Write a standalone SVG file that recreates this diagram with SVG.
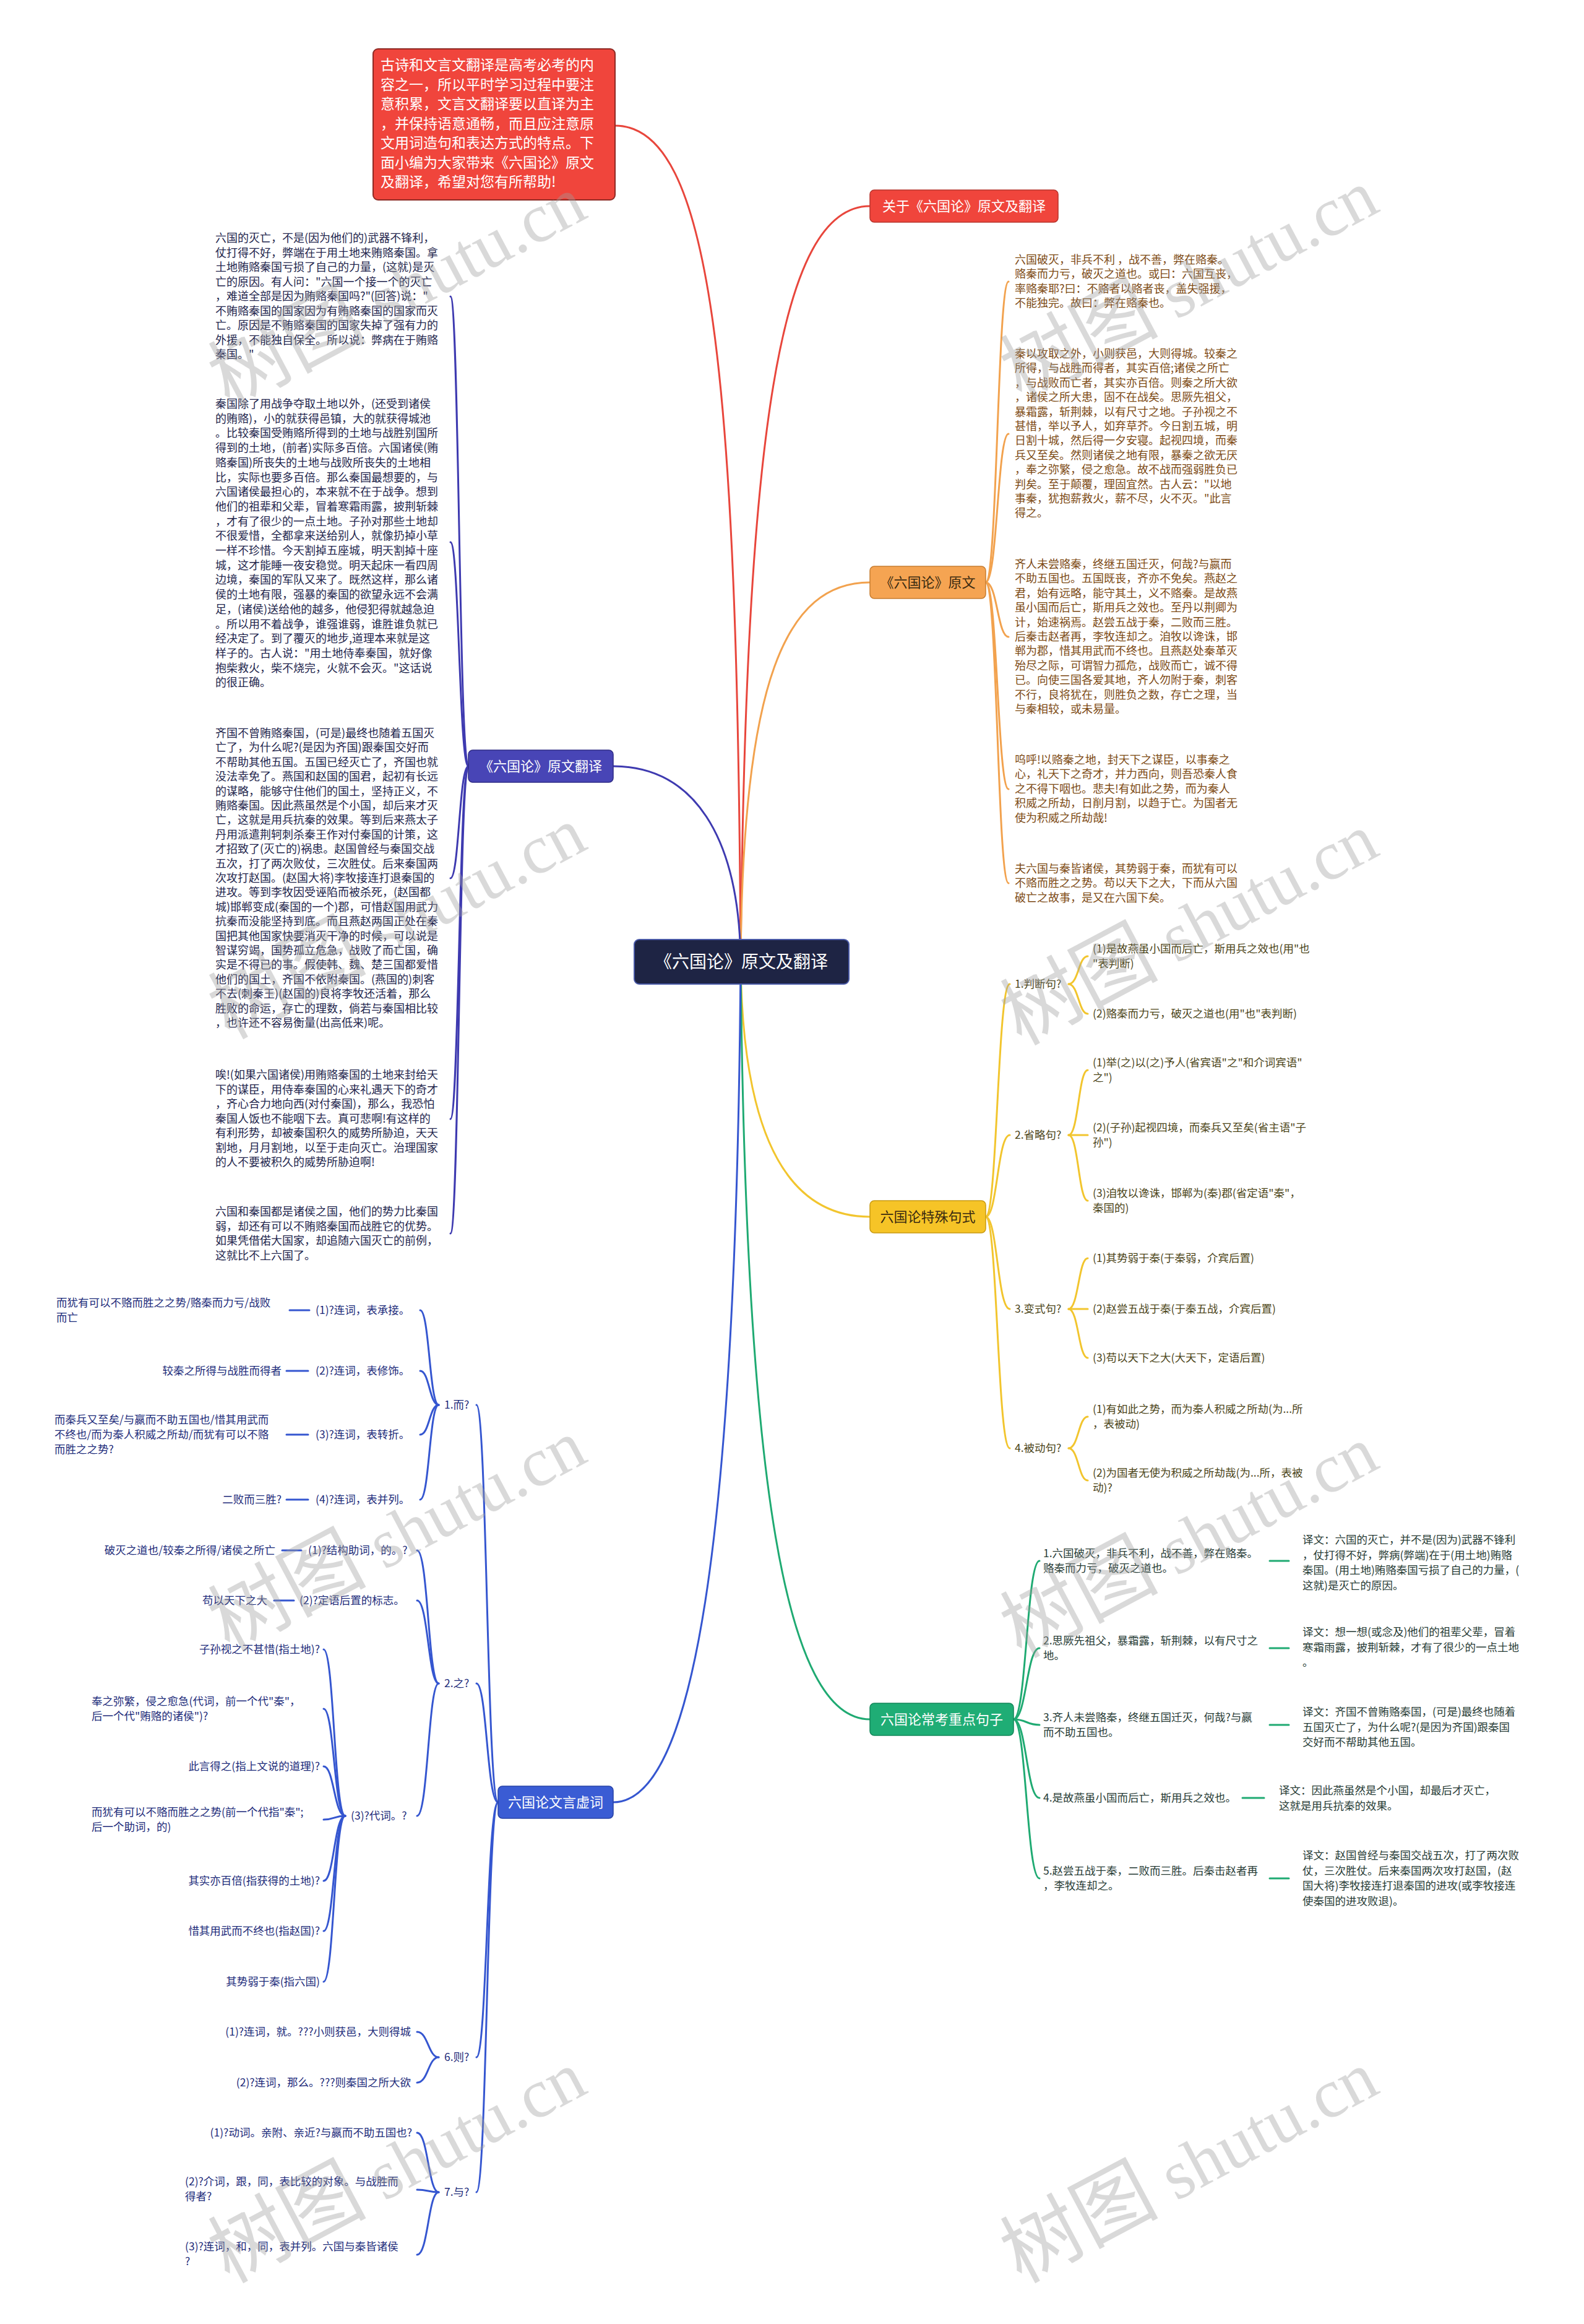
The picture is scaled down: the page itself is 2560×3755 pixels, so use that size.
<svg xmlns="http://www.w3.org/2000/svg" width="2560" height="3755" viewBox="0 0 2560 3755">
<style>
.cj{font-family:"Noto Sans CJK SC","Noto Sans",sans-serif}
.lt{font-size:18px;fill:#23264d}
.ot{font-size:18px;fill:#7d4a14}
.yt{font-size:17.5px;fill:#4b4418}
.gt{font-size:17.5px;fill:#283c36}
.bt{font-size:17.5px;fill:#1d2b7a}
.end{text-anchor:end}
.mid{text-anchor:middle}
.l1{font-size:22px}
.wh{fill:#ffffff}
.dk{fill:#3a2a10}
.c{fill:none;stroke-linecap:round}
.cr{stroke:#e8463c;stroke-width:3}
.co{stroke:#f2a24e;stroke-width:3}
.cy{stroke:#f2c52e;stroke-width:3}
.cg{stroke:#1faa72;stroke-width:3}
.ci{stroke:#3e3ab0;stroke-width:3}
.cb{stroke:#3556d0;stroke-width:3}
.wm{font-size:112px;fill:#9e9e9e;opacity:0.38}
.wmc{font-family:"Noto Sans CJK SC",sans-serif;font-size:128px}
.wms{font-family:"Liberation Serif",serif}
</style>
<rect width="2560" height="3755" fill="#ffffff"/>

<g id="connectors">
<path class="c cr" d="M1197,1554 C1192,600 1150,203 994,203"/>
<path class="c cr" d="M1197,1554 C1205,700 1260,333 1406,333"/>
<path class="c co" d="M1197,1554 C1200,1100 1270,941 1406,941"/>
<path class="c ci" d="M1197,1554 C1195,1350 1120,1238 991,1238"/>
<path class="c cy" d="M1197,1554 C1200,1850 1280,1966 1406,1966"/>
<path class="c cg" d="M1197,1554 C1205,2400 1270,2778 1406,2778"/>
<path class="c cb" d="M1197,1554 C1190,2500 1120,2912 991,2912"/>
<path class="c co" d="M1593,941 C1612,941 1612,455 1630,455"/>
<path class="c co" d="M1593,941 C1612,941 1612,701 1630,701"/>
<path class="c co" d="M1593,941 C1612,941 1612,1029 1630,1029"/>
<path class="c co" d="M1593,941 C1612,941 1612,1275 1630,1275"/>
<path class="c co" d="M1593,941 C1612,941 1612,1427 1630,1427"/>
<path class="c ci" d="M757,1238 C742,1238 742,479 728,479"/>
<path class="c ci" d="M757,1238 C742,1238 742,876 728,876"/>
<path class="c ci" d="M757,1238 C742,1238 742,1419 728,1419"/>
<path class="c ci" d="M757,1238 C742,1238 742,1808 728,1808"/>
<path class="c ci" d="M757,1238 C742,1238 742,1993 728,1993"/>
<path class="c cy" d="M1593,1966 C1612,1966 1612,1590 1632,1590"/>
<path class="c cy" d="M1593,1966 C1612,1966 1612,1834 1632,1834"/>
<path class="c cy" d="M1593,1966 C1612,1966 1612,2115 1632,2115"/>
<path class="c cy" d="M1593,1966 C1612,1966 1612,2340 1632,2340"/>
<path class="c cy" d="M1727,1590 C1743,1590 1743,1545 1758,1545"/>
<path class="c cy" d="M1727,1590 C1743,1590 1743,1638 1758,1638"/>
<path class="c cy" d="M1727,1834 C1743,1834 1743,1729 1758,1729"/>
<path class="c cy" d="M1727,1834 L1758,1834"/>
<path class="c cy" d="M1727,1834 C1743,1834 1743,1940 1758,1940"/>
<path class="c cy" d="M1727,2115 C1743,2115 1743,2033 1758,2033"/>
<path class="c cy" d="M1727,2115 L1758,2115"/>
<path class="c cy" d="M1727,2115 C1743,2115 1743,2194 1758,2194"/>
<path class="c cy" d="M1727,2340 C1743,2340 1743,2289 1758,2289"/>
<path class="c cy" d="M1727,2340 C1743,2340 1743,2392 1758,2392"/>
<path class="c cg" d="M1638,2778 C1659,2778 1659,2522 1680,2522"/>
<path class="c cg" d="M1638,2778 C1659,2778 1659,2663 1680,2663"/>
<path class="c cg" d="M1638,2778 C1659,2778 1659,2787 1680,2787"/>
<path class="c cg" d="M1638,2778 C1659,2778 1659,2905 1680,2905"/>
<path class="c cg" d="M1638,2778 C1659,2778 1659,3035 1680,3035"/>
<path class="c cg" d="M2052,2522 L2083,2522"/>
<path class="c cg" d="M2052,2663 L2083,2663"/>
<path class="c cg" d="M2052,2787 L2083,2787"/>
<path class="c cg" d="M2008,2905 L2043,2905"/>
<path class="c cg" d="M2052,3035 L2083,3035"/>
<path class="c cb" d="M805,2912 C787,2912 787,2270 770,2270"/>
<path class="c cb" d="M805,2912 C787,2912 787,2720 770,2720"/>
<path class="c cb" d="M805,2912 C787,2912 787,3324 770,3324"/>
<path class="c cb" d="M805,2912 C787,2912 787,3542 770,3542"/>
<path class="c cb" d="M709,2270 C694,2270 694,2117 679,2117"/>
<path class="c cb" d="M709,2270 C694,2270 694,2215 679,2215"/>
<path class="c cb" d="M709,2270 C694,2270 694,2318 679,2318"/>
<path class="c cb" d="M709,2270 C694,2270 694,2423 679,2423"/>
<path class="c cb" d="M468,2117 L500,2117"/>
<path class="c cb" d="M463,2215 L498,2215"/>
<path class="c cb" d="M463,2318 L498,2318"/>
<path class="c cb" d="M463,2423 L498,2423"/>
<path class="c cb" d="M709,2720 C692,2720 692,2505 674,2505"/>
<path class="c cb" d="M709,2720 C692,2720 692,2586 674,2586"/>
<path class="c cb" d="M709,2720 C692,2720 692,2934 674,2934"/>
<path class="c cb" d="M456,2505 L487,2505"/>
<path class="c cb" d="M443,2586 L475,2586"/>
<path class="c cb" d="M558,2934 C540,2934 540,2665 523,2665"/>
<path class="c cb" d="M558,2934 C540,2934 540,2761 523,2761"/>
<path class="c cb" d="M558,2934 C540,2934 540,2854 523,2854"/>
<path class="c cb" d="M558,2934 C540,2934 540,2940 523,2940"/>
<path class="c cb" d="M558,2934 C540,2934 540,3039 523,3039"/>
<path class="c cb" d="M558,2934 C540,2934 540,3120 523,3120"/>
<path class="c cb" d="M558,2934 C540,2934 540,3202 523,3202"/>
<path class="c cb" d="M709,3324 C692,3324 692,3283 674,3283"/>
<path class="c cb" d="M709,3324 C692,3324 692,3365 674,3365"/>
<path class="c cb" d="M709,3542 C692,3542 692,3446 674,3446"/>
<path class="c cb" d="M709,3542 C692,3542 692,3538 674,3538"/>
<path class="c cb" d="M709,3542 C692,3542 692,3643 674,3643"/>
</g>

<g id="root">
<rect x="1025" y="1518" width="347" height="72" rx="8" fill="#1e2444" stroke="#4a5aa8" stroke-width="2"/>
<text class="cj mid wh" x="1198" y="1564" font-size="28">《六国论》原文及翻译</text>
</g>

<g id="intro">
<rect x="603" y="79" width="391" height="244" rx="8" fill="#f0453c" stroke="#8e2a24" stroke-width="2"/>
<text class="cj wh" font-size="23">
<tspan x="615" y="113">古诗和文言文翻译是高考必考的内</tspan>
<tspan x="615" y="144.5">容之一，所以平时学习过程中要注</tspan>
<tspan x="615" y="176">意积累，文言文翻译要以直译为主</tspan>
<tspan x="615" y="207.5">，并保持语意通畅，而且应注意原</tspan>
<tspan x="615" y="239">文用词造句和表达方式的特点。下</tspan>
<tspan x="615" y="270.5">面小编为大家带来《六国论》原文</tspan>
<tspan x="615" y="302">及翻译，希望对您有所帮助!</tspan>
</text>
</g>

<g id="about">
<rect x="1406" y="307" width="304" height="52" rx="7" fill="#f0453c" stroke="#b8342c" stroke-width="1.5"/>
<text class="cj l1 mid wh" x="1558" y="341">关于《六国论》原文及翻译</text>
</g>

<g id="yuanwen">
<rect x="1406" y="915" width="187" height="52" rx="7" fill="#f5a452" stroke="#c77d30" stroke-width="1.5"/>
<text class="cj l1 mid dk" x="1499.5" y="949">《六国论》原文</text>
</g>

<g id="yuanwen-texts">
<text class="cj ot">
<tspan x="1640" y="426">六国破灭，非兵不利 ，战不善，弊在赂秦。</tspan>
<tspan x="1640" y="449.4">赂秦而力亏，破灭之道也。或曰：六国互丧，</tspan>
<tspan x="1640" y="472.8">率赂秦耶?曰：不赂者以赂者丧，盖失强援，</tspan>
<tspan x="1640" y="496.2">不能独完。故曰：弊在赂秦也。</tspan>
</text>
<text class="cj ot">
<tspan x="1640" y="578">秦以攻取之外，小则获邑，大则得城。较秦之</tspan>
<tspan x="1640" y="601.4">所得，与战胜而得者，其实百倍;诸侯之所亡</tspan>
<tspan x="1640" y="624.8">，与战败而亡者，其实亦百倍。则秦之所大欲</tspan>
<tspan x="1640" y="648.2">，诸侯之所大患，固不在战矣。思厥先祖父，</tspan>
<tspan x="1640" y="671.6">暴霜露，斩荆棘，以有尺寸之地。子孙视之不</tspan>
<tspan x="1640" y="695">甚惜，举以予人，如弃草芥。今日割五城，明</tspan>
<tspan x="1640" y="718.4">日割十城，然后得一夕安寝。起视四境，而秦</tspan>
<tspan x="1640" y="741.8">兵又至矣。然则诸侯之地有限，暴秦之欲无厌</tspan>
<tspan x="1640" y="765.2">，奉之弥繁，侵之愈急。故不战而强弱胜负已</tspan>
<tspan x="1640" y="788.6">判矣。至于颠覆，理固宜然。古人云："以地</tspan>
<tspan x="1640" y="812">事秦，犹抱薪救火，薪不尽，火不灭。"此言</tspan>
<tspan x="1640" y="835.4">得之。</tspan>
</text>
<text class="cj ot">
<tspan x="1640" y="918">齐人未尝赂秦，终继五国迁灭，何哉?与嬴而</tspan>
<tspan x="1640" y="941.4">不助五国也。五国既丧，齐亦不免矣。燕赵之</tspan>
<tspan x="1640" y="964.8">君，始有远略，能守其土，义不赂秦。是故燕</tspan>
<tspan x="1640" y="988.2">虽小国而后亡，斯用兵之效也。至丹以荆卿为</tspan>
<tspan x="1640" y="1011.6">计，始速祸焉。赵尝五战于秦，二败而三胜。</tspan>
<tspan x="1640" y="1035">后秦击赵者再，李牧连却之。洎牧以谗诛，邯</tspan>
<tspan x="1640" y="1058.4">郸为郡，惜其用武而不终也。且燕赵处秦革灭</tspan>
<tspan x="1640" y="1081.8">殆尽之际，可谓智力孤危，战败而亡，诚不得</tspan>
<tspan x="1640" y="1105.2">已。向使三国各爱其地，齐人勿附于秦，刺客</tspan>
<tspan x="1640" y="1128.6">不行，良将犹在，则胜负之数，存亡之理，当</tspan>
<tspan x="1640" y="1152">与秦相较，或未易量。</tspan>
</text>
<text class="cj ot">
<tspan x="1640" y="1234">呜呼!以赂秦之地，封天下之谋臣，以事秦之</tspan>
<tspan x="1640" y="1257.4">心，礼天下之奇才，并力西向，则吾恐秦人食</tspan>
<tspan x="1640" y="1280.8">之不得下咽也。悲夫!有如此之势，而为秦人</tspan>
<tspan x="1640" y="1304.2">积威之所劫，日削月割，以趋于亡。为国者无</tspan>
<tspan x="1640" y="1327.6">使为积威之所劫哉!</tspan>
</text>
<text class="cj ot">
<tspan x="1640" y="1410">夫六国与秦皆诸侯，其势弱于秦，而犹有可以</tspan>
<tspan x="1640" y="1433.4">不赂而胜之之势。苟以天下之大，下而从六国</tspan>
<tspan x="1640" y="1456.8">破亡之故事，是又在六国下矣。</tspan>
</text>
</g>

<g id="fanyi">
<rect x="757" y="1212" width="234" height="52" rx="7" fill="#4845b6" stroke="#2e2b86" stroke-width="1.5"/>
<text class="cj l1 mid wh" x="874" y="1246">《六国论》原文翻译</text>
</g>

<g id="fanyi-texts">
<text class="cj lt">
<tspan x="348" y="391">六国的灭亡，不是(因为他们的)武器不锋利，</tspan>
<tspan x="348" y="414.5">仗打得不好，弊端在于用土地来贿赂秦国。拿</tspan>
<tspan x="348" y="438">土地贿赂秦国亏损了自己的力量，(这就)是灭</tspan>
<tspan x="348" y="461.5">亡的原因。有人问："六国一个接一个的灭亡</tspan>
<tspan x="348" y="485">，难道全部是因为贿赂秦国吗?"(回答)说："</tspan>
<tspan x="348" y="508.5">不贿赂秦国的国家因为有贿赂秦国的国家而灭</tspan>
<tspan x="348" y="532">亡。原因是不贿赂秦国的国家失掉了强有力的</tspan>
<tspan x="348" y="555.5">外援，不能独自保全。所以说：弊病在于贿赂</tspan>
<tspan x="348" y="579">秦国。"</tspan>
</text>
<text class="cj lt">
<tspan x="348" y="659">秦国除了用战争夺取土地以外，(还受到诸侯</tspan>
<tspan x="348" y="682.7">的贿赂)，小的就获得邑镇，大的就获得城池</tspan>
<tspan x="348" y="706.4">。比较秦国受贿赂所得到的土地与战胜别国所</tspan>
<tspan x="348" y="730.1">得到的土地，(前者)实际多百倍。六国诸侯(贿</tspan>
<tspan x="348" y="753.8">赂秦国)所丧失的土地与战败所丧失的土地相</tspan>
<tspan x="348" y="777.5">比，实际也要多百倍。那么秦国最想要的，与</tspan>
<tspan x="348" y="801.2">六国诸侯最担心的，本来就不在于战争。想到</tspan>
<tspan x="348" y="824.9">他们的祖辈和父辈，冒着寒霜雨露，披荆斩棘</tspan>
<tspan x="348" y="848.6">，才有了很少的一点土地。子孙对那些土地却</tspan>
<tspan x="348" y="872.3">不很爱惜，全都拿来送给别人，就像扔掉小草</tspan>
<tspan x="348" y="896">一样不珍惜。今天割掉五座城，明天割掉十座</tspan>
<tspan x="348" y="919.7">城，这才能睡一夜安稳觉。明天起床一看四周</tspan>
<tspan x="348" y="943.4">边境，秦国的军队又来了。既然这样，那么诸</tspan>
<tspan x="348" y="967.1">侯的土地有限，强暴的秦国的欲望永远不会满</tspan>
<tspan x="348" y="990.8">足，(诸侯)送给他的越多，他侵犯得就越急迫</tspan>
<tspan x="348" y="1014.5">。所以用不着战争，谁强谁弱，谁胜谁负就已</tspan>
<tspan x="348" y="1038.2">经决定了。到了覆灭的地步,道理本来就是这</tspan>
<tspan x="348" y="1061.9">样子的。古人说："用土地侍奉秦国，就好像</tspan>
<tspan x="348" y="1085.6">抱柴救火，柴不烧完，火就不会灭。"这话说</tspan>
<tspan x="348" y="1109.3">的很正确。</tspan>
</text>
<text class="cj lt">
<tspan x="348" y="1191">齐国不曾贿赂秦国，(可是)最终也随着五国灭</tspan>
<tspan x="348" y="1214.4">亡了，为什么呢?(是因为齐国)跟秦国交好而</tspan>
<tspan x="348" y="1237.8">不帮助其他五国。五国已经灭亡了，齐国也就</tspan>
<tspan x="348" y="1261.2">没法幸免了。燕国和赵国的国君，起初有长远</tspan>
<tspan x="348" y="1284.6">的谋略，能够守住他们的国土，坚持正义，不</tspan>
<tspan x="348" y="1308">贿赂秦国。因此燕虽然是个小国，却后来才灭</tspan>
<tspan x="348" y="1331.4">亡，这就是用兵抗秦的效果。等到后来燕太子</tspan>
<tspan x="348" y="1354.8">丹用派遣荆轲刺杀秦王作对付秦国的计策，这</tspan>
<tspan x="348" y="1378.2">才招致了(灭亡的)祸患。赵国曾经与秦国交战</tspan>
<tspan x="348" y="1401.6">五次，打了两次败仗，三次胜仗。后来秦国两</tspan>
<tspan x="348" y="1425">次攻打赵国。(赵国大将)李牧接连打退秦国的</tspan>
<tspan x="348" y="1448.4">进攻。等到李牧因受诬陷而被杀死，(赵国都</tspan>
<tspan x="348" y="1471.8">城)邯郸变成(秦国的一个)郡，可惜赵国用武力</tspan>
<tspan x="348" y="1495.2">抗秦而没能坚持到底。而且燕赵两国正处在秦</tspan>
<tspan x="348" y="1518.6">国把其他国家快要消灭干净的时候，可以说是</tspan>
<tspan x="348" y="1542">智谋穷竭，国势孤立危急，战败了而亡国，确</tspan>
<tspan x="348" y="1565.4">实是不得已的事。假使韩、魏、楚三国都爱惜</tspan>
<tspan x="348" y="1588.8">他们的国土，齐国不依附秦国。(燕国的)刺客</tspan>
<tspan x="348" y="1612.2">不去(刺秦王)(赵国的)良将李牧还活着，那么</tspan>
<tspan x="348" y="1635.6">胜败的命运，存亡的理数，倘若与秦国相比较</tspan>
<tspan x="348" y="1659">，也许还不容易衡量(出高低来)呢。</tspan>
</text>
<text class="cj lt">
<tspan x="348" y="1743">唉!(如果六国诸侯)用贿赂秦国的土地来封给天</tspan>
<tspan x="348" y="1766.5">下的谋臣，用侍奉秦国的心来礼遇天下的奇才</tspan>
<tspan x="348" y="1790">，齐心合力地向西(对付秦国)，那么，我恐怕</tspan>
<tspan x="348" y="1813.5">秦国人饭也不能咽下去。真可悲啊!有这样的</tspan>
<tspan x="348" y="1837">有利形势，却被秦国积久的威势所胁迫，天天</tspan>
<tspan x="348" y="1860.5">割地，月月割地，以至于走向灭亡。治理国家</tspan>
<tspan x="348" y="1884">的人不要被积久的威势所胁迫啊!</tspan>
</text>
<text class="cj lt">
<tspan x="348" y="1964">六国和秦国都是诸侯之国，他们的势力比秦国</tspan>
<tspan x="348" y="1987.5">弱，却还有可以不贿赂秦国而战胜它的优势。</tspan>
<tspan x="348" y="2011">如果凭借偌大国家，却追随六国灭亡的前例，</tspan>
<tspan x="348" y="2034.5">这就比不上六国了。</tspan>
</text>
</g>

<g id="jushi">
<rect x="1406" y="1940" width="187" height="52" rx="7" fill="#f6c427" stroke="#c99a12" stroke-width="1.5"/>
<text class="cj l1 mid dk" x="1499.5" y="1974">六国论特殊句式</text>
</g>

<g id="jushi-items">
<text class="cj yt" x="1640" y="1596">1.判断句?</text>
<text class="cj yt"><tspan x="1766" y="1539">(1)是故燕虽小国而后亡，斯用兵之效也(用"也</tspan><tspan x="1766" y="1563">"表判断)</tspan></text>
<text class="cj yt" x="1766" y="1644">(2)赂秦而力亏，破灭之道也(用"也"表判断)</text>
<text class="cj yt" x="1640" y="1840">2.省略句?</text>
<text class="cj yt"><tspan x="1766" y="1723">(1)举(之)以(之)予人(省宾语"之"和介词宾语"</tspan><tspan x="1766" y="1747">之")</tspan></text>
<text class="cj yt"><tspan x="1766" y="1828">(2)(子孙)起视四境，而秦兵又至矣(省主语"子</tspan><tspan x="1766" y="1852">孙")</tspan></text>
<text class="cj yt"><tspan x="1766" y="1934">(3)洎牧以谗诛，邯郸为(秦)郡(省定语"秦"，</tspan><tspan x="1766" y="1958">秦国的)</tspan></text>
<text class="cj yt" x="1640" y="2121">3.变式句?</text>
<text class="cj yt" x="1766" y="2039">(1)其势弱于秦(于秦弱，介宾后置)</text>
<text class="cj yt" x="1766" y="2121">(2)赵尝五战于秦(于秦五战，介宾后置)</text>
<text class="cj yt" x="1766" y="2200">(3)苟以天下之大(大天下，定语后置)</text>
<text class="cj yt" x="1640" y="2346">4.被动句?</text>
<text class="cj yt"><tspan x="1766" y="2283">(1)有如此之势，而为秦人积威之所劫(为...所</tspan><tspan x="1766" y="2307">，表被动)</tspan></text>
<text class="cj yt"><tspan x="1766" y="2386">(2)为国者无使为积威之所劫哉(为...所，表被</tspan><tspan x="1766" y="2410">动)?</tspan></text>
</g>

<g id="zhongdian">
<rect x="1406" y="2752" width="232" height="52" rx="7" fill="#1fad75" stroke="#13875a" stroke-width="1.5"/>
<text class="cj l1 mid wh" x="1522" y="2786">六国论常考重点句子</text>
</g>

<g id="zhongdian-items">
<text class="cj gt"><tspan x="1686" y="2516">1.六国破灭，非兵不利，战不善，弊在赂秦。</tspan><tspan x="1686" y="2540">赂秦而力亏，破灭之道也。</tspan></text>
<text class="cj gt"><tspan x="2105" y="2494">译文：六国的灭亡，并不是(因为)武器不锋利</tspan><tspan x="2105" y="2518.5">，仗打得不好，弊病(弊端)在于(用土地)贿赂</tspan><tspan x="2105" y="2543">秦国。(用土地)贿赂秦国亏损了自己的力量，(</tspan><tspan x="2105" y="2567.5">这就)是灭亡的原因。</tspan></text>
<text class="cj gt"><tspan x="1686" y="2657">2.思厥先祖父，暴霜露，斩荆棘，以有尺寸之</tspan><tspan x="1686" y="2681">地。</tspan></text>
<text class="cj gt"><tspan x="2105" y="2643">译文：想一想(或念及)他们的祖辈父辈，冒着</tspan><tspan x="2105" y="2667.5">寒霜雨露，披荆斩棘，才有了很少的一点土地</tspan><tspan x="2105" y="2692">。</tspan></text>
<text class="cj gt"><tspan x="1686" y="2781">3.齐人未尝赂秦，终继五国迁灭，何哉?与嬴</tspan><tspan x="1686" y="2805">而不助五国也。</tspan></text>
<text class="cj gt"><tspan x="2105" y="2772">译文：齐国不曾贿赂秦国，(可是)最终也随着</tspan><tspan x="2105" y="2796.5">五国灭亡了，为什么呢?(是因为齐国)跟秦国</tspan><tspan x="2105" y="2821">交好而不帮助其他五国。</tspan></text>
<text class="cj gt" x="1686" y="2911">4.是故燕虽小国而后亡，斯用兵之效也。</text>
<text class="cj gt"><tspan x="2067" y="2899">译文：因此燕虽然是个小国，却最后才灭亡，</tspan><tspan x="2067" y="2923.5">这就是用兵抗秦的效果。</tspan></text>
<text class="cj gt"><tspan x="1686" y="3029">5.赵尝五战于秦，二败而三胜。后秦击赵者再</tspan><tspan x="1686" y="3053">，李牧连却之。</tspan></text>
<text class="cj gt"><tspan x="2105" y="3004">译文：赵国曾经与秦国交战五次，打了两次败</tspan><tspan x="2105" y="3028.5">仗，三次胜仗。后来秦国两次攻打赵国，(赵</tspan><tspan x="2105" y="3053">国大将)李牧接连打退秦国的进攻(或李牧接连</tspan><tspan x="2105" y="3077.5">使秦国的进攻败退)。</tspan></text>
</g>

<g id="xuci">
<rect x="805" y="2886" width="186" height="52" rx="7" fill="#3a5cd4" stroke="#2742a6" stroke-width="1.5"/>
<text class="cj l1 mid wh" x="898" y="2920">六国论文言虚词</text>
</g>

<g id="xuci-items">
<text class="cj bt" x="718" y="2276">1.而?</text>
<text class="cj bt" x="510" y="2123">(1)?连词，表承接。</text>
<text class="cj bt"><tspan x="91" y="2111">而犹有可以不赂而胜之之势/赂秦而力亏/战败</tspan><tspan x="91" y="2135">而亡</tspan></text>
<text class="cj bt" x="510" y="2221">(2)?连词，表修饰。</text>
<text class="cj bt end" x="455" y="2221">较秦之所得与战胜而得者</text>
<text class="cj bt" x="510" y="2324">(3)?连词，表转折。</text>
<text class="cj bt"><tspan x="88" y="2300">而秦兵又至矣/与嬴而不助五国也/惜其用武而</tspan><tspan x="88" y="2324">不终也/而为秦人积威之所劫/而犹有可以不赂</tspan><tspan x="88" y="2348">而胜之之势?</tspan></text>
<text class="cj bt" x="510" y="2429">(4)?连词，表并列。</text>
<text class="cj bt end" x="455" y="2429">二败而三胜?</text>

<text class="cj bt" x="718" y="2726">2.之?</text>
<text class="cj bt" x="498" y="2511">(1)?结构助词，的。?</text>
<text class="cj bt end" x="445" y="2511">破灭之道也/较秦之所得/诸侯之所亡</text>
<text class="cj bt" x="484" y="2592">(2)?定语后置的标志。</text>
<text class="cj bt end" x="432" y="2592">苟以天下之大</text>
<text class="cj bt" x="567" y="2940">(3)?代词。?</text>
<text class="cj bt end" x="517" y="2671">子孙视之不甚惜(指土地)?</text>
<text class="cj bt"><tspan x="148" y="2755">奉之弥繁，侵之愈急(代词，前一个代"秦"，</tspan><tspan x="148" y="2779">后一个代"贿赂的诸侯")?</tspan></text>
<text class="cj bt end" x="517" y="2860">此言得之(指上文说的道理)?</text>
<text class="cj bt"><tspan x="148" y="2934">而犹有可以不赂而胜之之势(前一个代指"秦";</tspan><tspan x="148" y="2958">后一个助词，的)</tspan></text>
<text class="cj bt end" x="517" y="3045">其实亦百倍(指获得的土地)?</text>
<text class="cj bt end" x="517" y="3126">惜其用武而不终也(指赵国)?</text>
<text class="cj bt end" x="517" y="3208">其势弱于秦(指六国)</text>

<text class="cj bt" x="718" y="3330">6.则?</text>
<text class="cj bt end" x="664" y="3289">(1)?连词，就。???小则获邑，大则得城</text>
<text class="cj bt end" x="664" y="3371">(2)?连词，那么。???则秦国之所大欲</text>

<text class="cj bt" x="718" y="3548">7.与?</text>
<text class="cj bt end" x="666" y="3452">(1)?动词。亲附、亲近?与嬴而不助五国也?</text>
<text class="cj bt"><tspan x="299" y="3531">(2)?介词，跟，同，表比较的对象。与战胜而</tspan><tspan x="299" y="3555">得者?</tspan></text>
<text class="cj bt"><tspan x="299" y="3636">(3)?连词，和，同，表并列。六国与秦皆诸侯</tspan><tspan x="299" y="3660">?</tspan></text>
</g>

<g id="watermarks">
<text class="wm" transform="translate(370,660) rotate(-28)"><tspan class="wmc">树图</tspan><tspan class="wms"> shutu.cn</tspan></text>
<text class="wm" transform="translate(1650,650) rotate(-28)"><tspan class="wmc">树图</tspan><tspan class="wms"> shutu.cn</tspan></text>
<text class="wm" transform="translate(370,1680) rotate(-28)"><tspan class="wmc">树图</tspan><tspan class="wms"> shutu.cn</tspan></text>
<text class="wm" transform="translate(1650,1690) rotate(-28)"><tspan class="wmc">树图</tspan><tspan class="wms"> shutu.cn</tspan></text>
<text class="wm" transform="translate(370,2670) rotate(-28)"><tspan class="wmc">树图</tspan><tspan class="wms"> shutu.cn</tspan></text>
<text class="wm" transform="translate(1650,2680) rotate(-28)"><tspan class="wmc">树图</tspan><tspan class="wms"> shutu.cn</tspan></text>
<text class="wm" transform="translate(370,3690) rotate(-28)"><tspan class="wmc">树图</tspan><tspan class="wms"> shutu.cn</tspan></text>
<text class="wm" transform="translate(1650,3690) rotate(-28)"><tspan class="wmc">树图</tspan><tspan class="wms"> shutu.cn</tspan></text>
</g>
</svg>
